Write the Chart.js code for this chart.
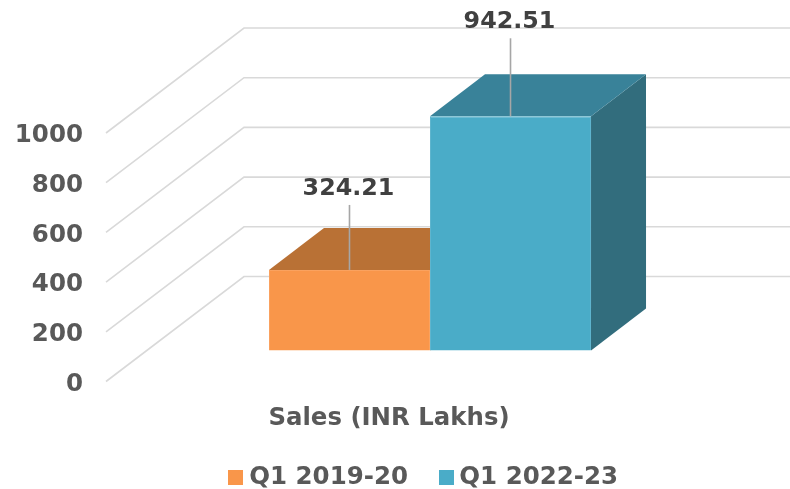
<!DOCTYPE html>
<html>
<head>
<meta charset="utf-8">
<style>
    html, body { margin: 0; padding: 0; background: #fff; }
    canvas { display: block; }
</style>
<script src="https://cdn.jsdelivr.net/npm/chart.js@4"></script>
</head>
<body>
<canvas id="salesChart" width="790" height="489"></canvas>
<script>
const categories = ['Sales (INR Lakhs)'];
const seriesNames = ['Q1 2019-20', 'Q1 2022-23'];
const salesQ1_2019 = [324.21];
const salesQ1_2022 = [942.51];
const axisMax = 1000;
const axisStep = 200;

const FONT = '"DejaVu Sans", sans-serif';

// front colour, top face, side face
const colors = [
    { front: '#F9964A', top: '#B97135', side: '#B97135', edge: '#FAA25F' },
    { front: '#4AACC8', top: '#398299', side: '#326D7D', edge: '#5FB5CE' }
];

// the bars stand inside the floor, so they are moved off the value axis plane
const shiftX = 41, shiftY = -31;
// depth of a bar
const depthX = 55, depthY = -42;
// slant of the side wall gridlines
const wallX = 138, wallY = -105;
// length of the leader line over each bar
const leaders = [65, 78];

function swatch(color) {
    const c = document.createElement('canvas');
    c.width = 15;
    c.height = 15;
    const g = c.getContext('2d');
    g.fillStyle = color;
    g.fillRect(0, 0, 15, 15);
    return c;
}

function poly(ctx, color, pts) {
    ctx.fillStyle = color;
    ctx.beginPath();
    pts.forEach((p, i) => i ? ctx.lineTo(p[0], p[1]) : ctx.moveTo(p[0], p[1]));
    ctx.closePath();
    ctx.fill();
}

const bar3d = {
    id: 'bar3d',
    afterLayout(chart) {
        // the legend sits right of the centre and closer to the bottom than its padding allows
        const legend = chart.legend;
        legend.left = 63;
        legend.right = 790;
        legend.top = 428;
        legend.bottom = 489;
        // axis labels are clipped to the axis box
        chart.scales.x.bottom = 440;
    },
    beforeDatasetsDraw(chart) {
        const ctx = chart.ctx;
        const yScale = chart.scales.y;
        const left = chart.chartArea.left;

        ctx.save();
        ctx.strokeStyle = '#D9D9D9';
        ctx.lineWidth = 1.6;
        yScale.ticks.forEach(t => {
            const y = yScale.getPixelForValue(t.value);
            ctx.beginPath();
            ctx.moveTo(left, y);
            ctx.lineTo(left + wallX, y + wallY);
            ctx.lineTo(790, y + wallY);
            ctx.stroke();
        });

        ctx.translate(shiftX, shiftY);
        chart.data.datasets.forEach((ds, i) => {
            const bar = chart.getDatasetMeta(i).data[0];
            const l = bar.x - bar.width / 2, r = bar.x + bar.width / 2;
            const c = colors[i];
            poly(ctx, c.side, [[r, bar.y], [r + depthX, bar.y + depthY], [r + depthX, bar.base + depthY], [r, bar.base]]);
            poly(ctx, c.top, [[l, bar.y], [l + depthX, bar.y + depthY], [r + depthX, bar.y + depthY], [r, bar.y]]);
        });
        // shift stays on for the bar fronts, afterDatasetsDraw takes it off
    },
    afterDatasetsDraw(chart) {
        const ctx = chart.ctx;
        ctx.restore();

        chart.data.datasets.forEach((ds, i) => {
            const bar = chart.getDatasetMeta(i).data[0];
            const x = bar.x + shiftX;
            const y = bar.y + shiftY;
            ctx.strokeStyle = '#A6A6A6';
            ctx.lineWidth = 1.6;
            ctx.beginPath();
            ctx.moveTo(x, y);
            ctx.lineTo(x, y - leaders[i]);
            ctx.stroke();

            ctx.fillStyle = '#404040';
            ctx.font = 'bold 23.8px ' + FONT;
            ctx.textAlign = 'center';
            ctx.textBaseline = 'middle';
            ctx.fillText(ds.data[0].toFixed(2), x - 1, y - leaders[i] - 16.5);
        });
    }
};

new Chart(document.getElementById('salesChart').getContext('2d'), {
    type: 'bar',
    plugins: [bar3d],
    data: {
        labels: categories,
        datasets: [
            {
                label: seriesNames[0],
                data: salesQ1_2019,
                backgroundColor: colors[0].front,
                borderColor: colors[0].edge,
                borderWidth: 1,
                clip: false
            },
            {
                label: seriesNames[1],
                data: salesQ1_2022,
                backgroundColor: colors[1].front,
                borderColor: colors[1].edge,
                borderWidth: 1,
                clip: false
            }
        ]
    },
    options: {
        responsive: false,
        animation: false,
        layout: { padding: { top: 133, right: 118, bottom: 0, left: 0 } },
        datasets: { bar: { categoryPercentage: 0.569, barPercentage: 1 } },
        scales: {
            x: {
                grid: { display: false },
                border: { display: false },
                ticks: {
                    color: '#595959',
                    font: { family: FONT, size: 24.4, weight: 'bold' },
                    padding: 15,
                    maxRotation: 0,
                    autoSkip: false
                },
                afterFit: s => { s.height = 36; }
            },
            y: {
                min: 0,
                max: axisMax,
                grid: { display: false },
                border: { display: false },
                ticks: {
                    stepSize: axisStep,
                    callback: v => String(v),
                    color: '#595959',
                    font: { family: FONT, size: 24.5, weight: 'bold' },
                    padding: 15,
                    labelOffset: 3
                },
                afterFit: s => { s.width = 106; }
            }
        },
        plugins: {
            tooltip: { enabled: false },
            legend: {
                position: 'bottom',
                labels: {
                    color: '#595959',
                    font: { family: FONT, size: 24.5, weight: 'bold' },
                    usePointStyle: true,
                    pointStyleWidth: 2,
                    boxHeight: 15,
                    padding: 37,
                    generateLabels(chart) {
                        const items = Chart.defaults.plugins.legend.labels.generateLabels(chart);
                        items.forEach((item, i) => { item.pointStyle = swatch(colors[i].front); });
                        return items;
                    }
                }
            }
        }
    }
});
</script>
</body>
</html>
